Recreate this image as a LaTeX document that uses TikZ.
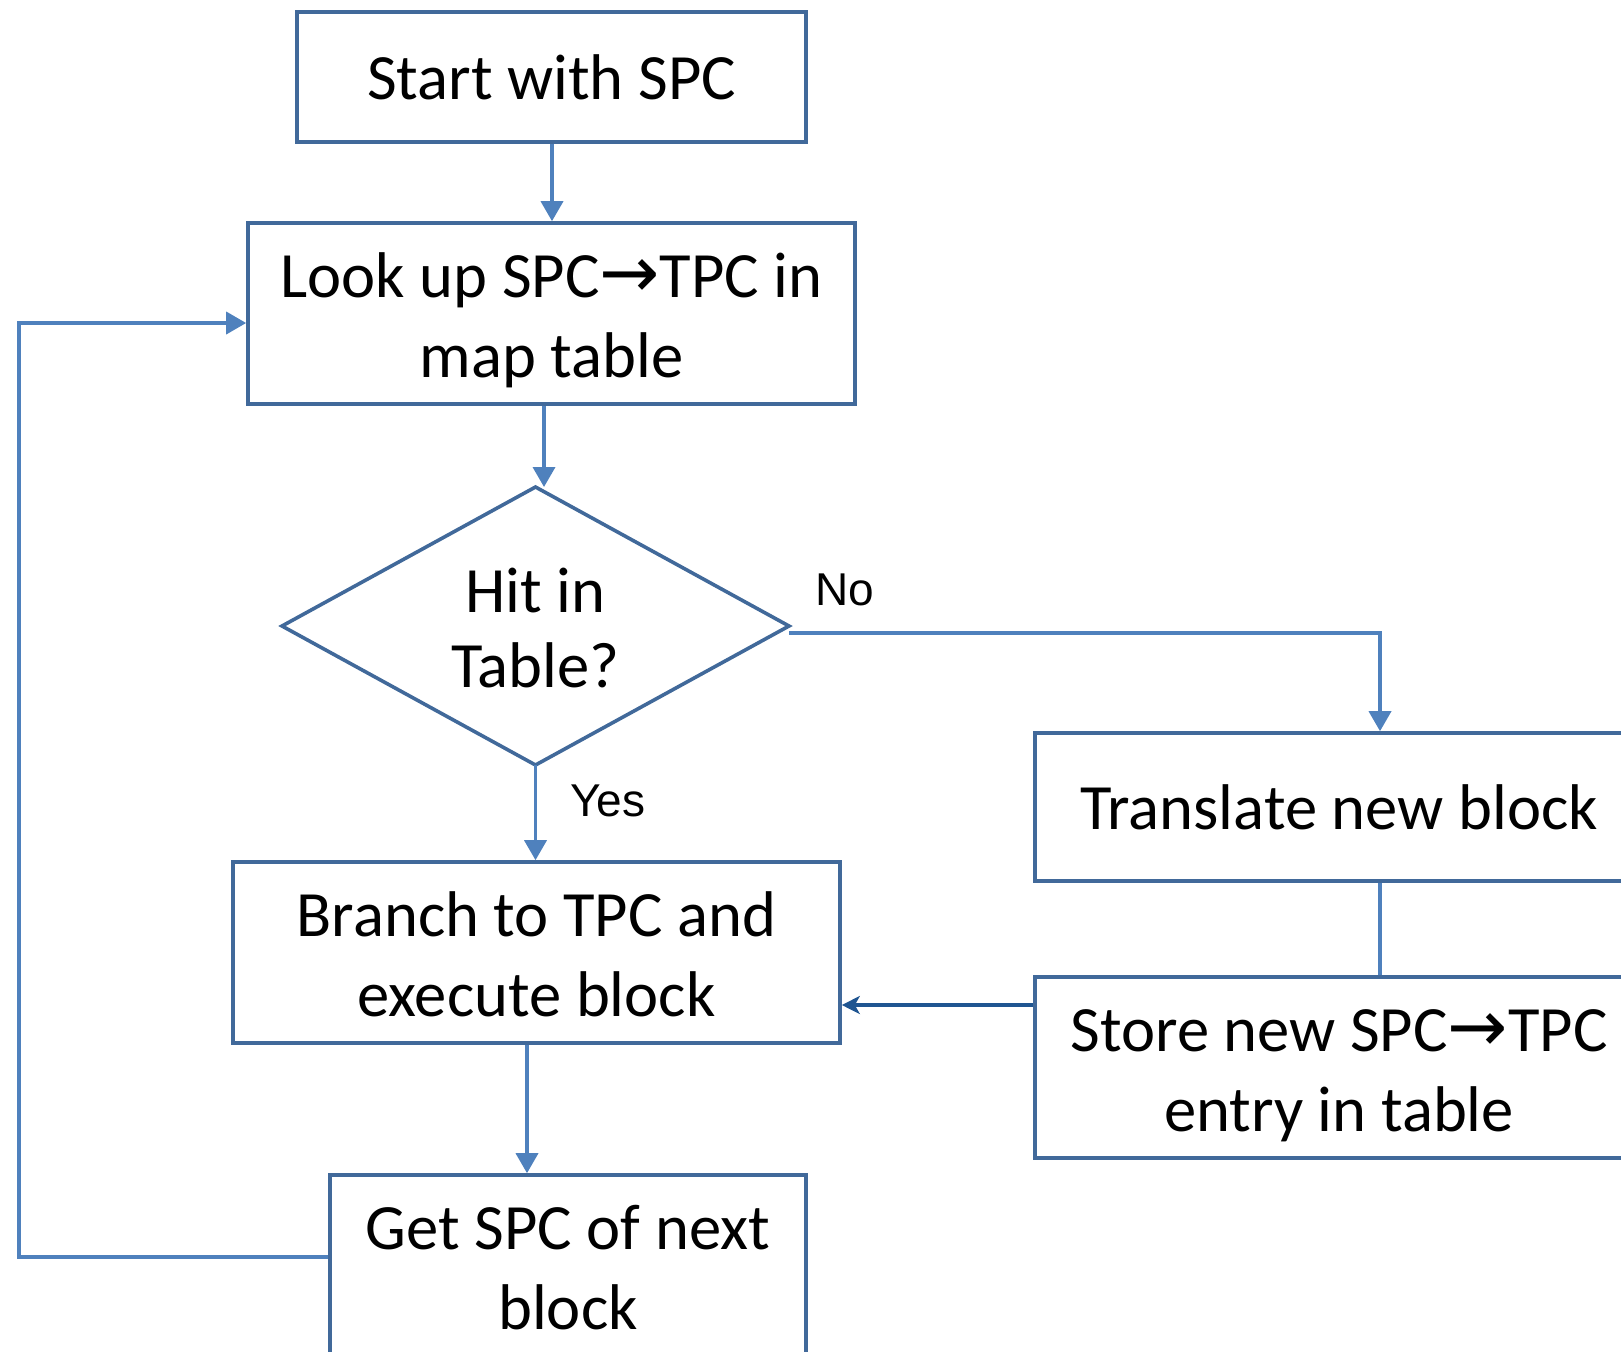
\documentclass[tikz,border=0pt]{standalone}
\usepackage{fontspec}
\setmainfont{Carlito}
\newfontfamily\arialf{Liberation Sans}
\newfontfamily\arrf{DejaVu Sans}
\usetikzlibrary{arrows.meta}
\definecolor{boxc}{HTML}{41699A}
\definecolor{linec}{HTML}{4F81BD}
\definecolor{darkc}{HTML}{1F5591}
\newcommand{\ar}{{\arrf\fontsize{36pt}{40pt}\selectfont →}}
\newcommand{\sx}{\vrule height 34pt depth 10pt width 0pt\relax}
\newcommand{\sd}{\vrule height 34pt depth 10.2pt width 0pt\relax}
\newcommand{\nolsk}{\lineskiplimit -100pt\relax}
\newcommand{\boxfont}{\fontsize{32.3pt}{40pt}\selectfont\nolsk}
\newcommand{\diafont}{\fontsize{32.3pt}{37.7pt}\selectfont\nolsk}
\tikzset{
  box/.style={draw=boxc, line width=1.8pt, fill=white, rectangle, inner sep=0pt, align=center,
    font=\boxfont},
  dia/.style={draw=boxc, line width=1.8pt, fill=white, inner sep=0pt},
  diatext/.style={inner sep=0pt, align=center, font=\diafont},
  conn/.style={draw=linec, line width=1.8pt, -{Triangle[width=11pt,length=10pt]}},
  plainconn/.style={draw=linec, line width=1.8pt},
  darkconn/.style={draw=darkc, line width=2.4pt, -{Stealth[width=9pt,length=9pt,inset=2.5pt]}},
  lbl/.style={font=\arialf\fontsize{23pt}{27pt}\selectfont, inner sep=0pt}
}
\begin{document}
\begin{tikzpicture}[x=0.5pt,y=-0.5pt]
\clip (0,0) rectangle (1621,1351);
\useasboundingbox (0,0) rectangle (1621,1351);
% boxes
\node[box, minimum width=254.5pt, minimum height=65pt] (start) at (551.5,77) {Start with SPC};
\node[box, minimum width=303.5pt, minimum height=90.5pt] (look) at (551.5,313.5) {\sx Look up SPC\ar TPC in\\\sx map table};
\draw[dia] (535.5,487) -- (789,626) -- (535.5,765) -- (282,626) -- cycle;
\coordinate (dN) at (535.5,487);
\coordinate (dS) at (535.5,765);
\coordinate (dE) at (789,633);
\node[diatext] (diat) at (535.5,626) {\sd Hit in\\\sd Table?};
\node[box, minimum width=304pt, minimum height=74pt] (trans) at (1339,807) {Translate new block};
\node[box, minimum width=304pt, minimum height=90.5pt] (store) at (1339,1067.5) {\sx Store new SPC\ar TPC\\\sx entry in table};
\node[box, minimum width=303.5pt, minimum height=90.5pt] (branch) at (536.5,952.5) {\sx Branch to TPC and\\\sx execute block};
\node[box, minimum width=238pt, minimum height=90.5pt] (get) at (568,1265.5) {\sx Get SPC of next\\\sx block};
% labels
\node[lbl] (no) at (845,590) {No};
\node[lbl] (yes) at (608,801) {Yes};
% connectors
\draw[conn] (start.south -| 552,0) -- (look.north -| 552,0);
\draw[conn] (look.south -| 544,0) -- (dN -| 544,0);
\draw[conn] (dS) -- (branch.north -| dS);
\coordinate (tx) at (1380,633);
\draw[conn] (dE) -- (tx) -- (trans.north -| tx);
\draw[plainconn] (trans.south -| tx) -- (store.north -| tx);
\draw[darkconn] (store.west |- 0,1005) -- (branch.east |- 0,1005);
\draw[conn] (branch.south -| 527,0) -- (get.north -| 527,0);
\coordinate (lb) at (19,1257);
\coordinate (lt) at (19,323);
\draw[conn] (get.west |- lb) -- (lb) -- (lt) -- (look.west |- lt);
\end{tikzpicture}
\end{document}
